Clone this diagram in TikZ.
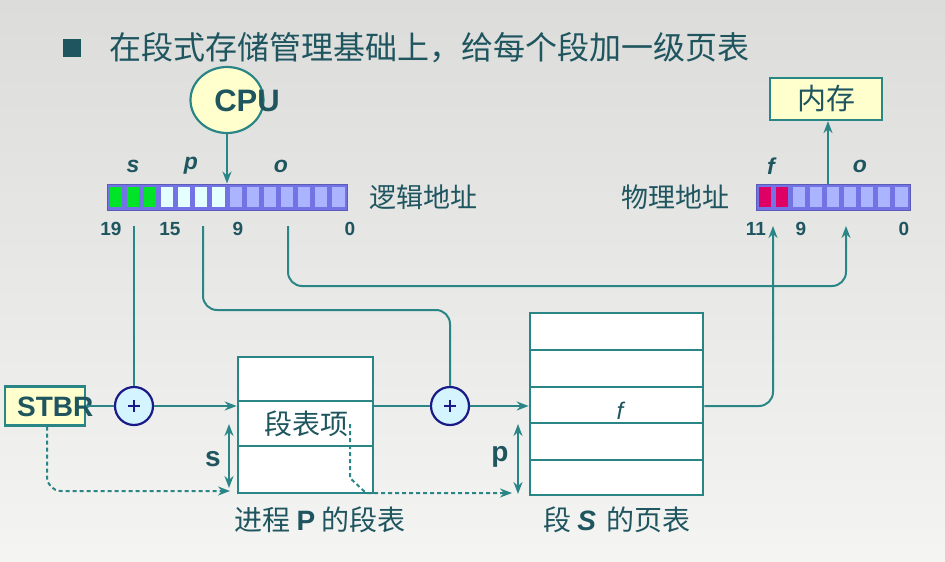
\documentclass[tikz,border=0pt]{standalone}
\usepackage{fontspec}
\setmainfont{Liberation Sans}
\newfontfamily\cjk{Noto Sans CJK SC}
\usepackage{tikz}
\usetikzlibrary{calc,positioning,arrows.meta,shapes.geometric}
\definecolor{tealline}{RGB}{42,134,134}
\definecolor{tealtext}{RGB}{30,85,95}
\definecolor{boxfill}{RGB}{255,255,205}
\definecolor{regframe}{RGB}{115,115,230}
\definecolor{regcell}{RGB}{170,180,255}
\definecolor{regwhite}{RGB}{228,255,255}
\definecolor{reggreen}{RGB}{0,228,40}
\definecolor{regred}{RGB}{222,0,100}
\definecolor{addfill}{RGB}{212,245,255}
\definecolor{addline}{RGB}{25,25,135}
\definecolor{bgtop}{RGB}{220,220,218}
\definecolor{bgbot}{RGB}{244,244,242}
\tikzset{
>={Stealth[length=12pt,width=9pt]},
  link/.style={draw=tealline, line width=2pt, rounded corners=14pt},
  dashlink/.style={link, dash pattern=on 4pt off 3pt},
  ybox/.style={
    rectangle,
    draw=tealline, fill=boxfill,
    line width=2.2pt,
    text=tealtext,
    inner sep=0pt},
  adder/.style={circle, draw=addline, fill=addfill, line width=2.2pt,
    minimum size=38pt, inner sep=0pt},
  tabbox/.style={rectangle, draw=tealline, fill=white, line width=2.6pt,
    inner sep=0pt},
  reglabel/.style={text=tealtext, font=\fontsize{23}{23}\selectfont\bfseries\itshape},
  bitnum/.style={text=tealtext, font=\fontsize{19}{19}\selectfont\bfseries},
  cjktext/.style={text=tealtext, font=\fontsize{27}{27}\selectfont\cjk},
}
\begin{document}
\begin{tikzpicture}[x=1pt,y=-1pt]
  \useasboundingbox (0,0) rectangle (945,562);
  \shade[top color=bgtop, bottom color=bgbot] (0,0) rectangle (945,562);

  % title
  \fill[tealtext] (63,39) rectangle (81,57);
  \node[anchor=west, text=tealtext, font=\fontsize{32}{32}\selectfont\cjk]
    (title) at (106,48) {在段式存储管理基础上，给每个段加一级页表};

  % CPU and memory
  \node[ellipse, draw=tealline, fill=boxfill, line width=2.2pt,
    minimum width=73pt, minimum height=66pt] (cpu) at (227,100) {};
  \node[text=tealtext, font=\fontsize{31}{31}\selectfont\bfseries]
    (cputxt) at (247,101) {CPU};
  \node[ybox, minimum width=112pt, minimum height=42pt,
    font=\fontsize{29}{29}\selectfont\cjk] (mem) at (826,99) {内存};

  % logical address register
  \node[rectangle, draw=regframe!80!black, fill=regframe, line width=1pt,
    minimum width=240pt, minimum height=26pt, inner sep=0pt]
    (laddr) at (227,197) {};
  \foreach \i in {0,1,2}
    \fill[reggreen] (109.5+\i*17.143,187) rectangle ++(12.2,20);
  \foreach \i in {3,...,6}
    \fill[regwhite] (109.5+\i*17.143,187) rectangle ++(12.2,20);
  \foreach \i in {7,...,13}
    \fill[regcell] (109.5+\i*17.143,187) rectangle ++(12.2,20);
  \node[reglabel] (ls) at (133,166) {s};
  \node[reglabel] (lp) at (191,166) {p};
  \node[reglabel] (lo) at (281,166) {o};
  \node[bitnum] (n19) at (111,229) {19};
  \node[bitnum] (n15) at (170,229) {15};
  \node[bitnum] (n9) at (238,229) {9};
  \node[bitnum] (n0) at (350,229) {0};
  \node[cjktext, anchor=west] (lname) at (366,197) {逻辑地址};

  % physical address register
  \node[rectangle, draw=regframe!80!black, fill=regframe, line width=1pt,
    minimum width=154pt, minimum height=26pt, inner sep=0pt]
    (paddr) at (833,197) {};
  \foreach \i in {0,1}
    \fill[regred] (758.5+\i*17.111,187) rectangle ++(12.2,20);
  \foreach \i in {2,...,8}
    \fill[regcell] (758.5+\i*17.111,187) rectangle ++(12.2,20);
  \node[reglabel] (pf) at (771,166) {f};
  \node[reglabel] (po) at (860,166) {o};
  \node[bitnum] (m11) at (756,229) {11};
  \node[bitnum] (m9) at (801,229) {9};
  \node[bitnum] (m0) at (904,229) {0};
  \node[cjktext, anchor=east] (pname) at (733,197) {物理地址};

  % STBR, adders, tables
  \node[ybox, minimum width=80pt, minimum height=39pt] (stbr) at (45,406) {};
  \node[anchor=west, text=tealtext, inner sep=0pt,
    font=\fontsize{28}{28}\selectfont\bfseries] (stbrtxt) at (17,407) {STBR};
  \node[tabbox, minimum width=135pt, minimum height=136pt] (segtab) at (305.5,425) {};
  \draw[tealline, line width=2.6pt] (238,401) -- (373,401) (238,446) -- (373,446);
  \node[cjktext, font=\fontsize{28}{28}\selectfont\cjk] (entry) at (306,424) {段表项};
  \node[tabbox, minimum width=173pt, minimum height=182pt] (pagetab) at (616.5,404) {};
  \foreach \y in {350,387,423,460}
    \draw[tealline, line width=2.6pt] (530,\y) -- (703,\y);
  \node[text=tealtext, font=\fontsize{24}{24}\selectfont\itshape] (fval) at (620,411) {f};
  \node[adder] (add1) at (134,406) {};
  \node[adder] (add2) at (450,406) {};
  \draw[addline, line width=2pt] (add1.center) ++(-6,0) -- ++(12,0) ++(-6,-6) -- ++(0,12);
  \draw[addline, line width=2pt] (add2.center) ++(-6,0) -- ++(12,0) ++(-6,-6) -- ++(0,12);

  \node[cjktext, font=\fontsize{28}{28}\selectfont\cjk] (segcap) at (320,520)
    {进程 {\normalfont\bfseries P} 的段表};
  \node[cjktext, font=\fontsize{28}{28}\selectfont\cjk] (pagecap) at (617,520)
    {段 {\normalfont\bfseries\itshape S} \,的页表};

  % connectors
  \coordinate (sbit) at (134,226);
  \coordinate (pbit) at (203,226);
  \coordinate (obit) at (288,226);
  \coordinate (fbit) at (773,226);
  \coordinate (pobit) at (846,226);
  \coordinate (pmid) at (828,184);
  \draw[link,->] (cpu.south) -- (cpu.south |- laddr.north);
  \draw[link,->] (pmid) -- (pmid |- mem.south);
  \draw[link] (sbit) -- (add1.north);
  \draw[link] (stbr.east |- add1) -- (add1.west);
  \draw[link,->] (add1.east) -- (add1 -| segtab.west);
  \draw[link] (add2 -| segtab.east) -- (add2.west);
  \draw[link,->] (add2.east) -- (add2 -| pagetab.west);
  \draw[link] (pbit) -- (203,310) -- (450,310) -- (add2.north);
  \draw[link,->] (obit) -- (288,286) -- (846,286) -- (pobit);
  \draw[link,->] (pagetab.east |- add2) -- (773,406) -- (fbit);

  % offsets
  \draw[link,<->] (229,424) -- (229,488);
  \node[text=tealtext, font=\fontsize{28}{28}\selectfont\bfseries] (slen) at (213,459) {s};
  \draw[link,<->] (518,424) -- (518,494);
  \node[text=tealtext, font=\fontsize{28}{28}\selectfont\bfseries] (plen) at (500,457) {p};
  \draw[dashlink,->] (stbr.south -| 47,0) -- (47,491) -- (230,491);
  \coordinate (entryend) at (350,424);
  \draw[dashlink,->, rounded corners=0pt] (entryend) -- (350,478) -- (366,493) -- (512,493);
\end{tikzpicture}
\end{document}
